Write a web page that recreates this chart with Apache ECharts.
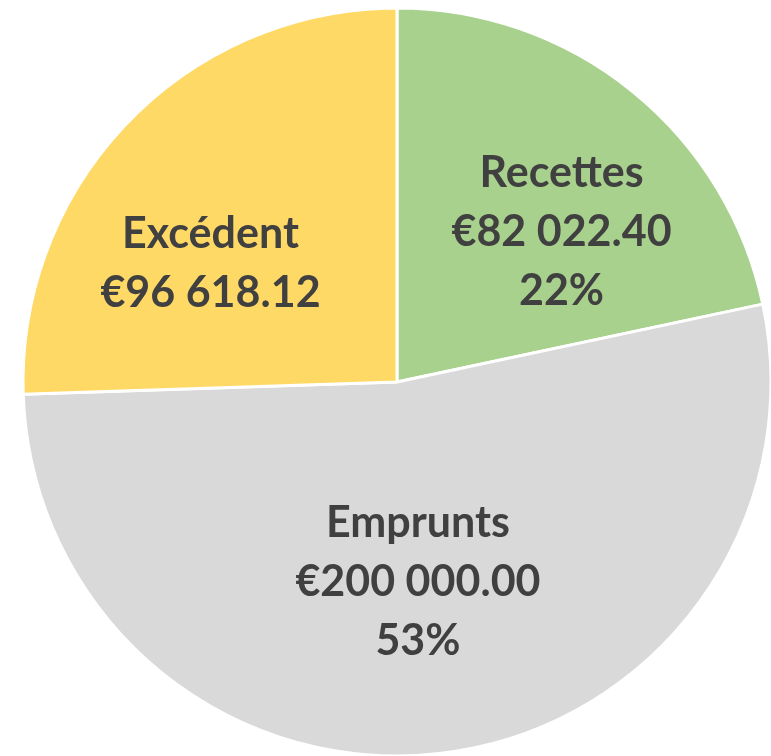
<!DOCTYPE html>
<html>
<head>
<meta charset="utf-8">
<script src="https://cdn.jsdelivr.net/npm/echarts@6/dist/echarts.min.js"></script>
<style>
  html, body { margin: 0; padding: 0; background: #fff; }
  #graf { width: 771px; height: 756px; }
</style>
</head>
<body>
<div id="graf"></div>
<script>
// données du graphique
const categories = ["Recettes", "Emprunts", "Excédent"];
const montants = [82022.40, 200000.00, 96618.12];
const afficherPct = [true, true, false];

const couleurs = ["#A9D18E", "#D9D9D9", "#FFD966"];
// décalage des étiquettes (style)
const decalages = [[45, -2], [-2, 12], [-50, 14]];

function formatEuro(v) {
  const parts = v.toFixed(2).split(".");
  const ent = parts[0].replace(/\B(?=(\d{3})+(?!\d))/g, " ");
  return "€" + ent + "." + parts[1];
}

const chart = echarts.init(document.getElementById("graf"));

const dados = categories.map((nom, i) => ({
  name: nom,
  value: montants[i],
  itemStyle: { color: couleurs[i] },
  label: { offset: decalages[i] }
}));

chart.setOption({
  animation: false,
  series: [{
    type: "pie",
    center: [397, 382],
    radius: 374,
    startAngle: 90,
    clockwise: true,
    data: dados,
    itemStyle: { borderColor: "#fff", borderWidth: 3 },
    label: {
      show: true,
      position: "inside",
      color: "#404040",
      fontFamily: "Lato",
      fontWeight: "bold",
      fontSize: 43,
      lineHeight: 59,
      formatter: (p) => {
        let txt = p.name + "\n" + formatEuro(p.value);
        if (afficherPct[p.dataIndex]) txt += "\n" + Math.round(p.percent) + "%";
        return txt;
      }
    },
    labelLine: { show: false },
    emphasis: { disabled: true }
  }]
});
</script>
</body>
</html>
